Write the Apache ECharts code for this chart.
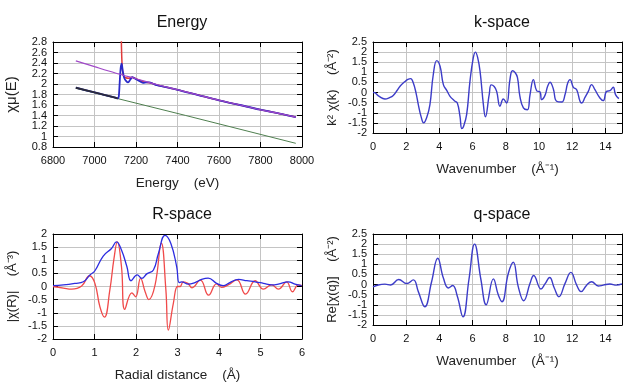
<!DOCTYPE html>
<html><head><meta charset="utf-8">
<script src="https://cdn.jsdelivr.net/npm/echarts@6/dist/echarts.min.js"></script>
<style>html,body{margin:0;padding:0;background:#fff}#c{width:640px;height:384px}</style>
</head><body><div id="c"></div>
<script>
// ---------- Energy panel ----------
const eDataX = [6910,6950,7000,7050,7100,7112,7117,7121,7126,7131,7136,7143,7152,7162,7172,7182,7192,7205,7220,7235,7250,7265,7280,7300,7400,7500,7600,7700,7800,7900,7970];
const eDataY = [1.93,1.89,1.84,1.79,1.74,1.725,1.76,2.0,2.3,2.39,2.25,2.12,2.06,2.03,2.08,2.13,2.11,2.08,2.05,2.02,2.03,2.03,2.01,1.98,1.89,1.79,1.69,1.60,1.51,1.43,1.37];
const eBkgX = [7127,7130,7134,7140,7150,7165,7180,7195,7210,7240,7270,7300,7400,7500,7600,7700,7800,7900,7970];
const eBkgY = [3.5,2.7,2.3,2.15,2.12,2.11,2.13,2.11,2.08,2.04,2.02,1.98,1.89,1.79,1.69,1.60,1.51,1.43,1.37];
const ePostX = [6910,7000,7100,7200,7300,7400,7500,7600,7700,7800,7900,7970];
const ePostY = [2.44,2.33,2.21,2.10,1.99,1.89,1.79,1.69,1.60,1.51,1.43,1.37];
const ePreX = [6910,7440,7970];
const ePreY = [1.92,1.40,0.87];
const ePreDataX = [6910,7000,7100,7112];
const ePreDataY = [1.93,1.84,1.74,1.725];
// ---------- k-space ----------
const kX = [0,0.06,0.35,0.72,1.0,1.22,1.45,1.63,1.93,2.1,2.27,2.43,2.6,2.73,2.9,3.05,3.25,3.43,3.63,3.84,4.04,4.24,4.45,4.64,4.9,5.08,5.24,5.35,5.44,5.64,5.84,6.04,6.17,6.3,6.45,6.65,6.77,7.0,7.12,7.3,7.45,7.65,7.85,8.05,8.25,8.4,8.55,8.7,8.85,9.06,9.3,9.46,9.66,9.86,10.06,10.16,10.36,10.52,10.66,10.86,11.06,11.37,11.57,11.73,11.87,12.07,12.27,12.47,12.57,12.77,12.97,13.17,13.37,13.67,13.87,14.07,14.27,14.47,14.61,14.81];
const kY = [0,0,-0.18,-0.32,-0.25,-0.14,0.1,0.31,0.55,0.65,0.69,0.47,-0.05,-0.6,-1.2,-1.5,-1.2,-0.6,0.88,1.58,1.3,0.39,0.1,-0.19,-0.4,-0.52,-1.18,-1.78,-1.7,-1.09,0.55,1.71,2.0,1.75,1.05,-0.6,-1.2,-0.1,0.38,0.3,0.06,-0.68,-0.32,-0.52,0.64,1.08,1.0,0.75,-0.19,-0.76,-0.85,-0.1,0.64,0.09,0.03,-0.35,-0.14,0.31,0.51,0.19,-0.43,-0.47,-0.1,0.47,0.64,0.26,0.14,-0.43,-0.52,-0.24,0.06,0.39,0.14,-0.27,-0.4,0.06,0.09,0.26,-0.1,-0.3];
// ---------- R-space ----------
const rMagX = [0,0.25,0.53,0.73,0.89,1.01,1.21,1.41,1.53,1.65,1.78,1.88,2.03,2.14,2.26,2.42,2.54,2.70,2.84,2.98,3.04,3.10,3.26,3.42,3.58,3.74,3.94,4.10,4.26,4.47,4.67,4.87,5.07,5.27,5.43,5.67,5.83,5.99];
const rMagY = [0.03,0.06,0.12,0.18,0.44,0.6,1.16,1.45,1.7,1.39,0.76,0.22,0.44,0.31,0.48,0.63,1.26,1.95,1.64,0.76,0.15,0.18,0.09,0.15,0.27,0.32,0.12,0.03,0.15,0.27,0.22,0.18,0.12,0.06,0.09,0.18,0.09,0.03];
const rReX = [0,0.25,0.45,0.69,0.88,1.01,1.13,1.24,1.37,1.47,1.55,1.65,1.73,1.90,1.99,2.11,2.22,2.31,2.46,2.61,2.72,2.78,2.90,3.0,3.06,3.14,3.25,3.35,3.55,3.75,3.94,4.06,4.22,4.43,4.64,4.87,5.07,5.27,5.43,5.63,5.77,5.91,6.0];
const rReY = [0,-0.06,-0.1,0.02,0.41,0.12,-0.77,-1.17,-0.13,1.07,1.7,0.76,-0.87,-0.24,-0.39,0.31,-0.2,-0.5,0.06,1.65,-0.13,-1.66,-0.64,0.0,0.0,0.18,0.12,-0.05,0.24,-0.33,0.1,-0.03,0.06,0.25,-0.29,0.22,-0.1,0.06,-0.1,0.18,-0.2,0.06,0.03];
// ---------- q-space ----------
const qX = [0,0.32,0.72,1.06,1.55,2.03,2.43,2.73,3.12,3.53,3.9,4.24,4.54,4.80,5.08,5.42,5.78,6.12,6.5,6.82,7.25,7.55,7.77,8.15,8.45,8.75,9.08,9.46,9.68,10.12,10.36,10.64,10.92,11.2,11.57,11.92,12.27,12.53,12.87,13.17,13.57,13.87,14.27,14.67,15.0];
const qY = [-0.12,-0.02,0.02,-0.02,0.25,0.05,0.23,-0.35,-1.1,0.14,1.3,0.32,-0.17,-0.05,-0.58,-1.6,0.25,2.0,0.25,-1.0,0.28,-0.52,-0.85,0.55,1.1,-0.1,-0.8,0.06,0.45,-0.22,0.03,0.35,-0.17,-0.6,0.06,0.6,-0.03,-0.35,-0.03,0.14,-0.07,-0.03,0.03,-0.03,0.03];

const zip = (xs, ys) => xs.map((x, i) => [x, ys[i]]);
const FONT = 'Liberation Sans';
const grids = [
  {left: 53, right: 338, top: 42, bottom: 237},
  {left: 373, right: 18, top: 42, bottom: 251},
  {left: 53, right: 338, top: 234, bottom: 45},
  {left: 373, right: 18, top: 234, bottom: 59}
];
const axisCfg = [
  {x: [6800, 8000, 200], y: [0.8, 2.8, 0.2], xname: 'Energy    (eV)', yname: 'χμ(E)', ynameSize: 15},
  {x: [0, 15, 2], y: [-2, 2.5, 0.5], xname: 'Wavenumber    (Å⁻¹)', yname: 'k² χ(k)    (Å⁻²)', ynameSize: 13},
  {x: [0, 6, 1], y: [-2, 2, 0.5], xname: 'Radial distance    (Å)', yname: '|χ(R)|    (Å⁻³)', ynameSize: 13},
  {x: [0, 15, 2], y: [-2, 2.5, 0.5], xname: 'Wavenumber    (Å⁻¹)', yname: 'Re[χ(q)]    (Å⁻²)', ynameSize: 13}
];
const xAxes = [], yAxes = [];
const line = {show: true, onZero: false, lineStyle: {color: '#000', width: 1}};
const tick = {show: true, inside: true, length: 5, lineStyle: {color: '#000'}};
const fmt = v => String(Math.round(v * 1000) / 1000);
const yLabelBase = {color: '#111', fontFamily: FONT, fontSize: 11, margin: 6, hideOverlap: false};
axisCfg.forEach((a, g) => {
  xAxes.push({type: 'value', gridIndex: g, position: 'bottom', min: a.x[0], max: a.x[1], interval: a.x[2],
    axisLine: line, axisTick: tick,
    axisLabel: {color: '#111', fontFamily: FONT, fontSize: 11, margin: 8, formatter: fmt,
      showMinLabel: true, showMaxLabel: a.x[1] % a.x[2] === 0, hideOverlap: false},
    splitLine: {show: true, lineStyle: {color: '#c4c4c4', width: 1}},
    name: a.xname, nameLocation: 'middle', nameGap: 29,
    nameTextStyle: {fontFamily: FONT, fontSize: 13.5, color: '#222'}});
  xAxes.push({type: 'value', gridIndex: g, position: 'top', min: a.x[0], max: a.x[1], interval: a.x[2],
    axisLine: line, axisTick: tick, axisLabel: {show: false}, splitLine: {show: false}});
  // main left axis: inner labels
  yAxes.push({type: 'value', gridIndex: g, position: 'left', min: a.y[0], max: a.y[1], interval: a.y[2],
    axisLine: line, axisTick: tick,
    axisLabel: Object.assign({formatter: fmt, showMinLabel: false, showMaxLabel: false}, yLabelBase),
    splitLine: {show: true, lineStyle: {color: '#c4c4c4', width: 1}},
    name: a.yname, nameLocation: 'middle', nameGap: 34,
    nameTextStyle: {fontFamily: FONT, fontSize: a.ynameSize, color: '#222'}});
  yAxes.push({type: 'value', gridIndex: g, position: 'right', min: a.y[0], max: a.y[1], interval: a.y[2],
    axisLine: line, axisTick: tick, axisLabel: {show: false}, splitLine: {show: false}});
  // extra left axis carrying only the end labels
  yAxes.push({type: 'value', gridIndex: g, position: 'left', min: a.y[0], max: a.y[1], interval: a.y[2],
    axisLine: {show: false, onZero: false}, axisTick: {show: false}, splitLine: {show: false},
    axisLabel: Object.assign({showMinLabel: true, showMaxLabel: true,
      formatter: v => (Math.abs(v - a.y[0]) < 1e-9 || Math.abs(v - a.y[1]) < 1e-9) ? fmt(v) : ''}, yLabelBase)});
});
const ser = (g, data, color, width, z, smooth) => ({type: 'line', xAxisIndex: g * 2, yAxisIndex: g * 3, data,
  showSymbol: false, symbol: 'none', smooth: smooth === undefined ? 0.45 : smooth, clip: true, z: z || 2,
  lineStyle: {color, width}, silent: true, animation: false});
const titleStyle = {fontFamily: FONT, fontSize: 16, fontWeight: 'normal', color: '#111'};
const option = {
  backgroundColor: '#fff',
  animation: false,
  title: [
    {text: 'Energy', left: 177, top: 10, textAlign: 'center', textStyle: titleStyle},
    {text: 'k-space', left: 497, top: 10, textAlign: 'center', textStyle: titleStyle},
    {text: 'R-space', left: 177, top: 202, textAlign: 'center', textStyle: titleStyle},
    {text: 'q-space', left: 497, top: 202, textAlign: 'center', textStyle: titleStyle}
  ],
  grid: grids,
  xAxis: xAxes,
  yAxis: yAxes,
  series: [
    ser(0, zip(ePreX, ePreY), '#4f7f4f', 1, 2, 0),
    ser(0, zip(eBkgX, eBkgY), '#e03a3a', 1.5, 3, 0.2),
    ser(0, zip(eDataX, eDataY), '#2a2ac8', 1.8, 4, 0.3),
    ser(0, zip(ePreDataX, ePreDataY), '#2a2a3a', 2, 5, 0),
    ser(0, zip(ePostX, ePostY), '#a048c8', 1.2, 6, 0.3),
    ser(1, zip(kX, kY), '#3c3cc8', 1.4),
    ser(2, zip(rMagX, rMagY), '#2c2ce0', 1.3, 3),
    ser(2, zip(rReX, rReY), '#f04a4a', 1.3, 2),
    ser(3, zip(qX, qY), '#3c3cc8', 1.4)
  ]
};
echarts.init(document.getElementById('c'), null, {renderer: 'canvas'}).setOption(option);
</script></body></html>
